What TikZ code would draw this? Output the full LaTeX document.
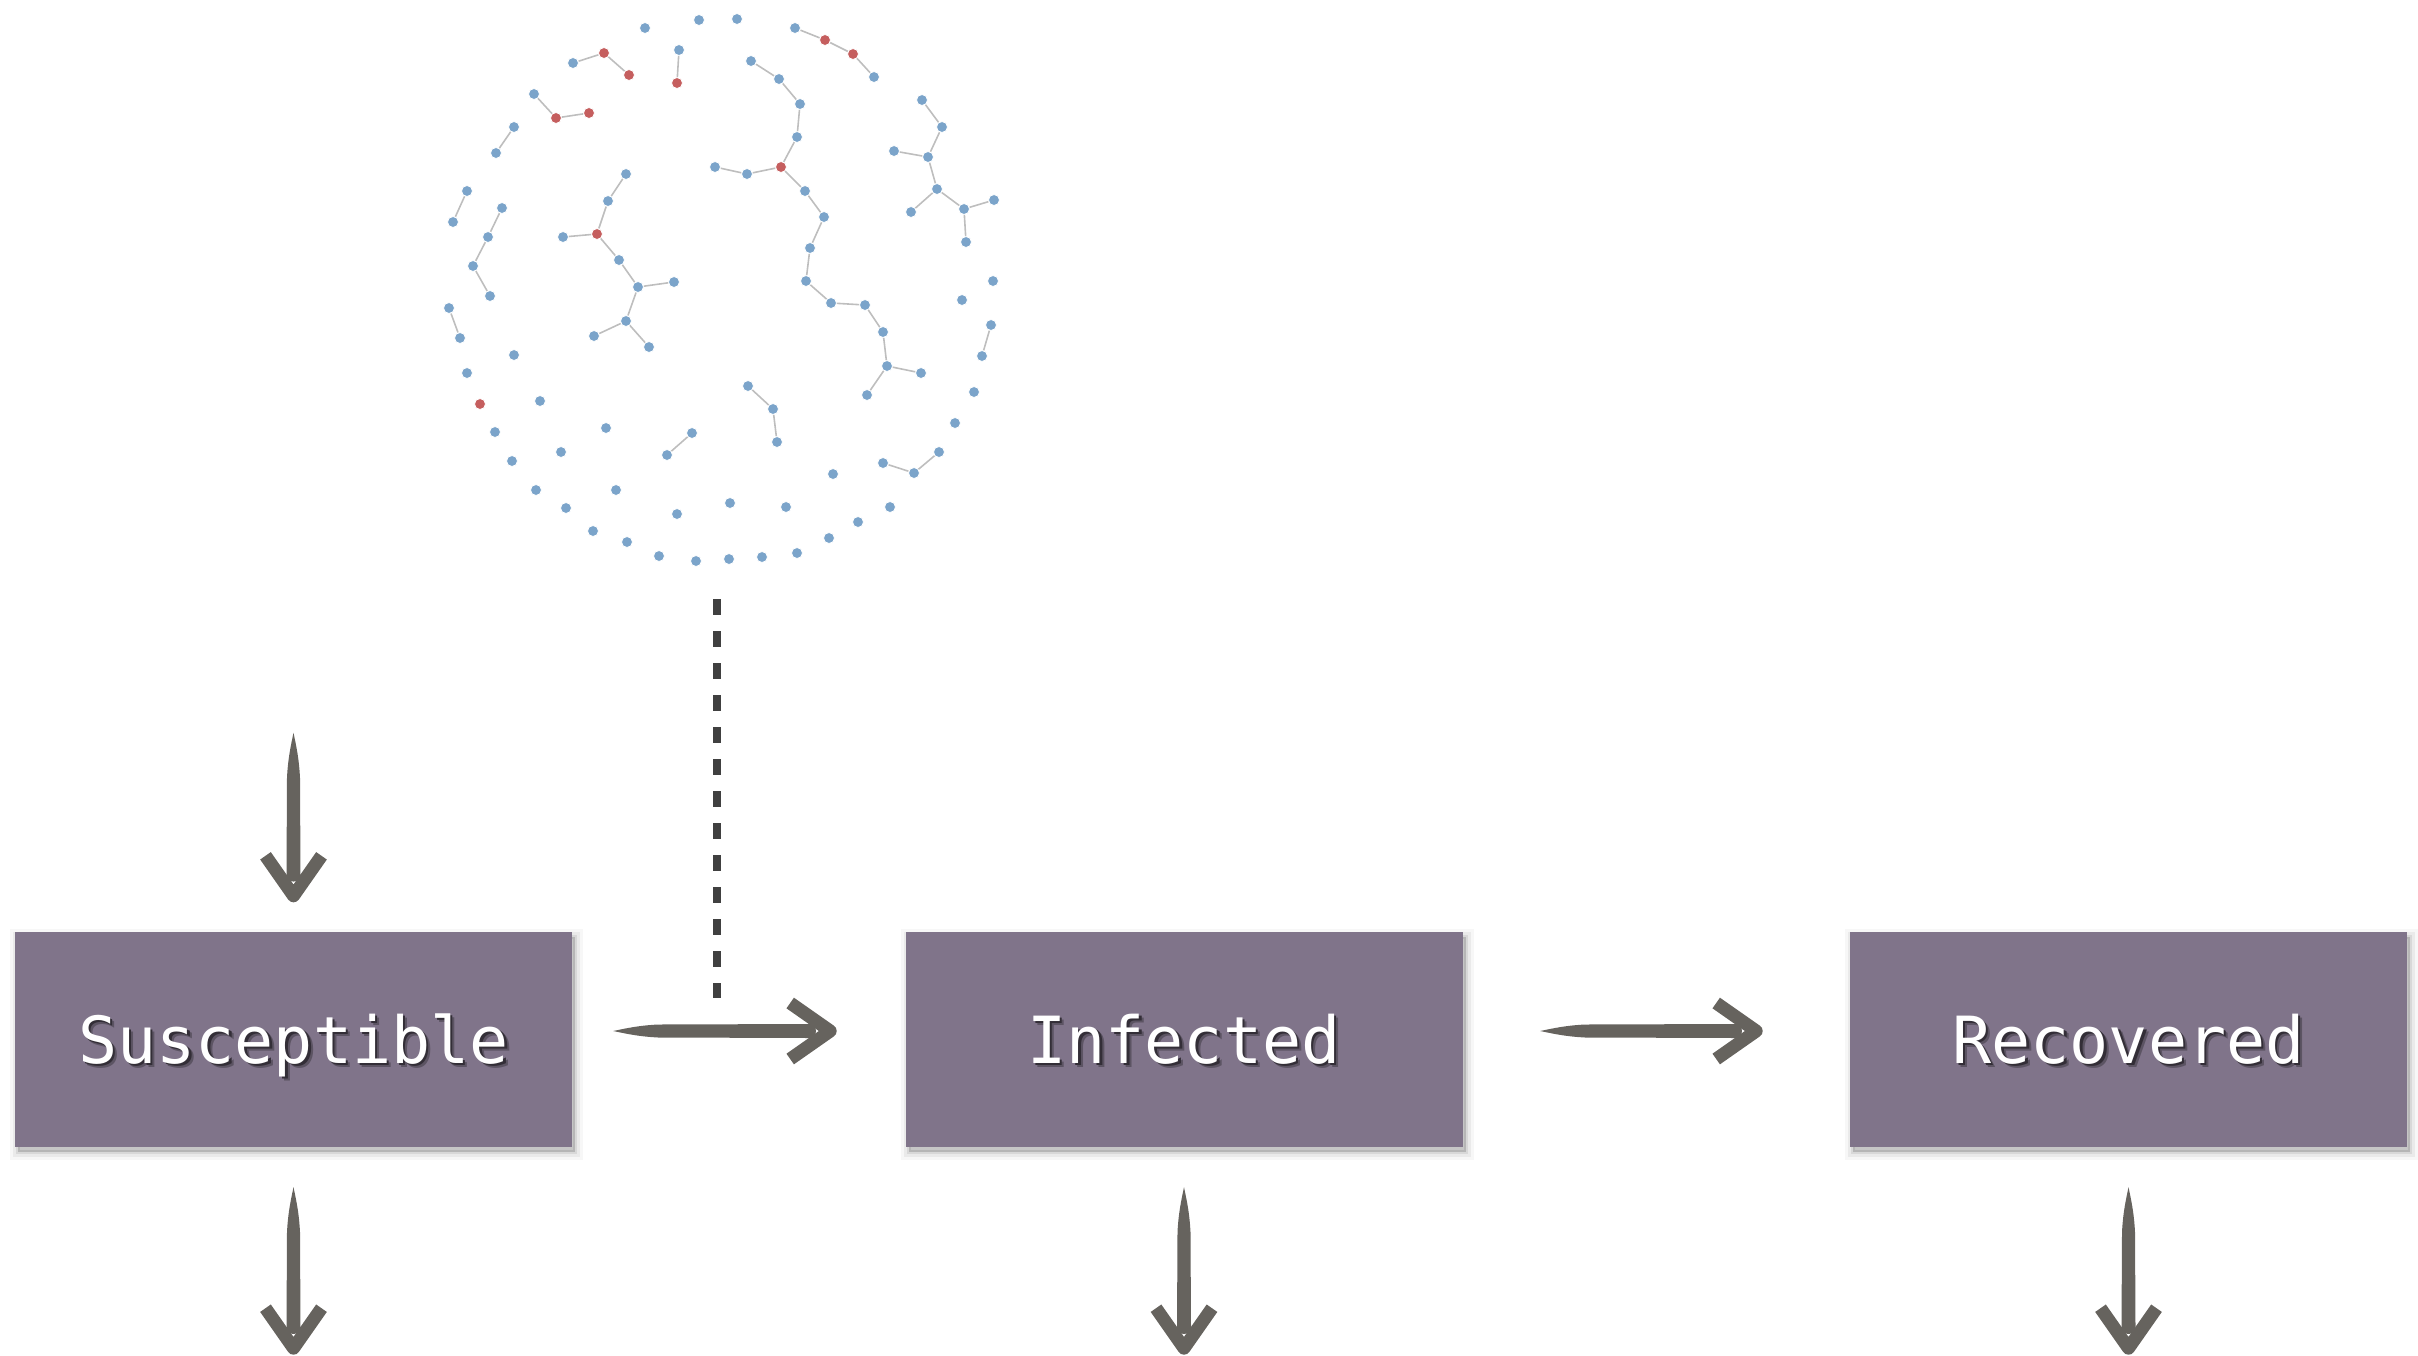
\documentclass[tikz,border=0pt]{standalone}
\usepackage{fontspec}
\newfontfamily\boxfont{DejaVu Sans Mono}
\usetikzlibrary{shadows}
\definecolor{boxc}{RGB}{128,116,138}
\definecolor{arrowc}{RGB}{102,99,94}
\definecolor{bluen}{RGB}{123,164,202}
\definecolor{redn}{RGB}{197,94,94}
\definecolor{edgec}{RGB}{190,190,190}
\definecolor{dashc}{RGB}{64,64,64}
\colorlet{shadowa}{boxc!72!black}
\colorlet{shadowb}{boxc!40!black}
\newcommand\shadowedtext[1]{%
  \rlap{\kern4.5pt\raisebox{-4.5pt}{\color{shadowa}#1}}%
  \rlap{\kern2.5pt\raisebox{-2.5pt}{\color{shadowb}#1}}%
  #1}
\tikzset{
 bn/.style={circle, inner sep=0pt, minimum size=11pt, fill=bluen, draw=white, line width=0.8pt},
 rn/.style={bn, fill=redn},
 ed/.style={draw=edgec, line width=1.6pt},
 statebox/.style={rectangle, fill=boxc, minimum width=557pt, minimum height=215pt, inner sep=0pt,
   general shadow={shadow xshift=3pt, shadow yshift=-5pt, fill=black, draw=black, line width=16pt, opacity=0.03},
   general shadow={shadow xshift=3pt, shadow yshift=-5pt, fill=black, draw=black, line width=10pt, opacity=0.05},
   general shadow={shadow xshift=3pt, shadow yshift=-5pt, fill=black, draw=black, line width=4pt, opacity=0.08}},
 boxtext/.style={text=white, font=\boxfont\fontsize{65}{70}\selectfont, inner sep=0pt, anchor=base},
 dashline/.style={draw=dashc, line width=8pt, dash pattern=on 16pt off 16pt},
 pics/brusharrow/.style={code={
   \fill[arrowc] (0,0) .. controls (12,-2.5) and (25,-5.5) .. (45,-6.5) -- (#1-28,-7)
      .. controls (#1-19,-7) and (#1-19,7) .. (#1-28,7) -- (45,6.5)
      .. controls (25,5.5) and (12,2.5) .. (0,0) -- cycle;
   \draw[arrowc, line width=13pt, line join=round] (#1-47,-28) -- (#1-7,0) -- (#1-47,28);
 }},
}
\begin{document}
\begin{tikzpicture}[x=1pt, y=-1pt]
\useasboundingbox (0,0) rectangle (2418,1355);
% ---------- network ----------
\node[bn] (a1) at (645,28) {};
\node[bn] (a2) at (699,20) {};
\node[bn] (a3) at (737,19) {};
\node[bn] (b1) at (573,63) {};
\node[rn] (b2) at (604,53) {};
\node[rn] (b3) at (629,75) {};
\node[bn] (c1) at (679,50) {};
\node[rn] (c2) at (677,83) {};
\node[bn] (d1) at (534,94) {};
\node[rn] (d2) at (556,118) {};
\node[rn] (d3) at (589,113) {};
\node[bn] (e1) at (514,127) {};
\node[bn] (e2) at (496,153) {};
\node[bn] (f1) at (467,191) {};
\node[bn] (f2) at (453,222) {};
\node[bn] (g1) at (502,208) {};
\node[bn] (g2) at (488,237) {};
\node[bn] (g3) at (473,266) {};
\node[bn] (g4) at (490,296) {};
\node[bn] (h1) at (626,174) {};
\node[bn] (h2) at (608,201) {};
\node[rn] (h3) at (597,234) {};
\node[bn] (h4) at (563,237) {};
\node[bn] (h5) at (619,260) {};
\node[bn] (h6) at (638,287) {};
\node[bn] (h7) at (674,282) {};
\node[bn] (h8) at (626,321) {};
\node[bn] (h9) at (594,336) {};
\node[bn] (h10) at (649,347) {};
\node[bn] (i1) at (795,28) {};
\node[rn] (i2) at (825,40) {};
\node[rn] (i3) at (853,54) {};
\node[bn] (i4) at (874,77) {};
\node[bn] (j1) at (751,61) {};
\node[bn] (j2) at (779,79) {};
\node[bn] (j3) at (800,104) {};
\node[bn] (j4) at (797,137) {};
\node[rn] (j5) at (781,167) {};
\node[bn] (j6) at (747,174) {};
\node[bn] (j7) at (715,167) {};
\node[bn] (j8) at (805,191) {};
\node[bn] (j9) at (824,217) {};
\node[bn] (j10) at (810,248) {};
\node[bn] (j11) at (806,281) {};
\node[bn] (j12) at (831,303) {};
\node[bn] (j13) at (865,305) {};
\node[bn] (j14) at (883,332) {};
\node[bn] (j15) at (887,366) {};
\node[bn] (j16) at (921,373) {};
\node[bn] (j17) at (867,395) {};
\node[bn] (k1) at (922,100) {};
\node[bn] (k2) at (942,127) {};
\node[bn] (k3) at (928,157) {};
\node[bn] (k4) at (894,151) {};
\node[bn] (k5) at (937,189) {};
\node[bn] (k6) at (911,212) {};
\node[bn] (k7) at (964,209) {};
\node[bn] (k8) at (994,200) {};
\node[bn] (k9) at (966,242) {};
\node[bn] (l1) at (993,281) {};
\node[bn] (l2) at (962,300) {};
\node[bn] (m1) at (991,325) {};
\node[bn] (m2) at (982,356) {};
\node[bn] (m3) at (974,392) {};
\node[bn] (m4) at (955,423) {};
\node[bn] (n1) at (748,386) {};
\node[bn] (n2) at (773,409) {};
\node[bn] (n3) at (777,442) {};
\node[bn] (o1) at (883,463) {};
\node[bn] (o2) at (914,473) {};
\node[bn] (o3) at (939,452) {};
\node[bn] (o4) at (833,474) {};
\node[bn] (p1) at (449,308) {};
\node[bn] (p2) at (460,338) {};
\node[bn] (q1) at (514,355) {};
\node[bn] (q2) at (467,373) {};
\node[rn] (q3) at (480,404) {};
\node[bn] (q4) at (540,401) {};
\node[bn] (q5) at (606,428) {};
\node[bn] (r1) at (692,433) {};
\node[bn] (r2) at (667,455) {};
\node[bn] (s1) at (495,432) {};
\node[bn] (s2) at (561,452) {};
\node[bn] (s3) at (512,461) {};
\node[bn] (s4) at (616,490) {};
\node[bn] (s5) at (536,490) {};
\node[bn] (s6) at (566,508) {};
\node[bn] (s7) at (677,514) {};
\node[bn] (s8) at (730,503) {};
\node[bn] (s9) at (593,531) {};
\node[bn] (s10) at (627,542) {};
\node[bn] (s11) at (659,556) {};
\node[bn] (s12) at (696,561) {};
\node[bn] (s13) at (729,559) {};
\node[bn] (s14) at (762,557) {};
\node[bn] (s15) at (797,553) {};
\node[bn] (s16) at (829,538) {};
\node[bn] (s17) at (858,522) {};
\node[bn] (s18) at (890,507) {};
\node[bn] (s19) at (786,507) {};
\foreach \u/\v in {b1/b2,b2/b3,c1/c2,d1/d2,d2/d3,e1/e2,f1/f2,g1/g2,g2/g3,g3/g4,
  h1/h2,h2/h3,h3/h4,h3/h5,h5/h6,h6/h7,h6/h8,h8/h9,h8/h10,i1/i2,i2/i3,i3/i4,
  j1/j2,j2/j3,j3/j4,j4/j5,j5/j6,j6/j7,j5/j8,j8/j9,j9/j10,j10/j11,j11/j12,j12/j13,
  j13/j14,j14/j15,j15/j16,j15/j17,k1/k2,k2/k3,k3/k4,k3/k5,k5/k6,k5/k7,k7/k8,k7/k9,
  m1/m2,n1/n2,n2/n3,o1/o2,o2/o3,p1/p2,r1/r2}
  \draw[ed] (\u) -- (\v);
% ---------- boxes ----------
\node[statebox] (S) at (293.5,1039.5) {};
\node[statebox] (I) at (1184,1039.5) {};
\node[statebox] (R) at (2128.5,1039.5) {};
\foreach \b/\t in {S/Susceptible, I/Infected, R/Recovered}{
  \node[boxtext] (\b-text) at ([shift={(0,23.5)}]\b.center) {\shadowedtext{\t}};
}
% ---------- dashed link ----------
\coordinate (dtop) at (716.7,599);
\coordinate (dbot) at (716.7,998);
\draw[dashline] (dtop) -- (dbot);
% ---------- arrows ----------
\path ([yshift=199pt]S.north) pic[rotate=-90] {brusharrow=170};
\path ([yshift=-40pt]S.south) pic[rotate=-90] {brusharrow=168};
\path ([yshift=-40pt]I.south) pic[rotate=-90] {brusharrow=168};
\path ([yshift=-40pt]R.south) pic[rotate=-90] {brusharrow=168};
\path ([shift={(41,-8.5)}]S.east) pic {brusharrow=224};
\path ([shift={(77.5,-8.5)}]I.east) pic {brusharrow=223};
\end{tikzpicture}
\end{document}
